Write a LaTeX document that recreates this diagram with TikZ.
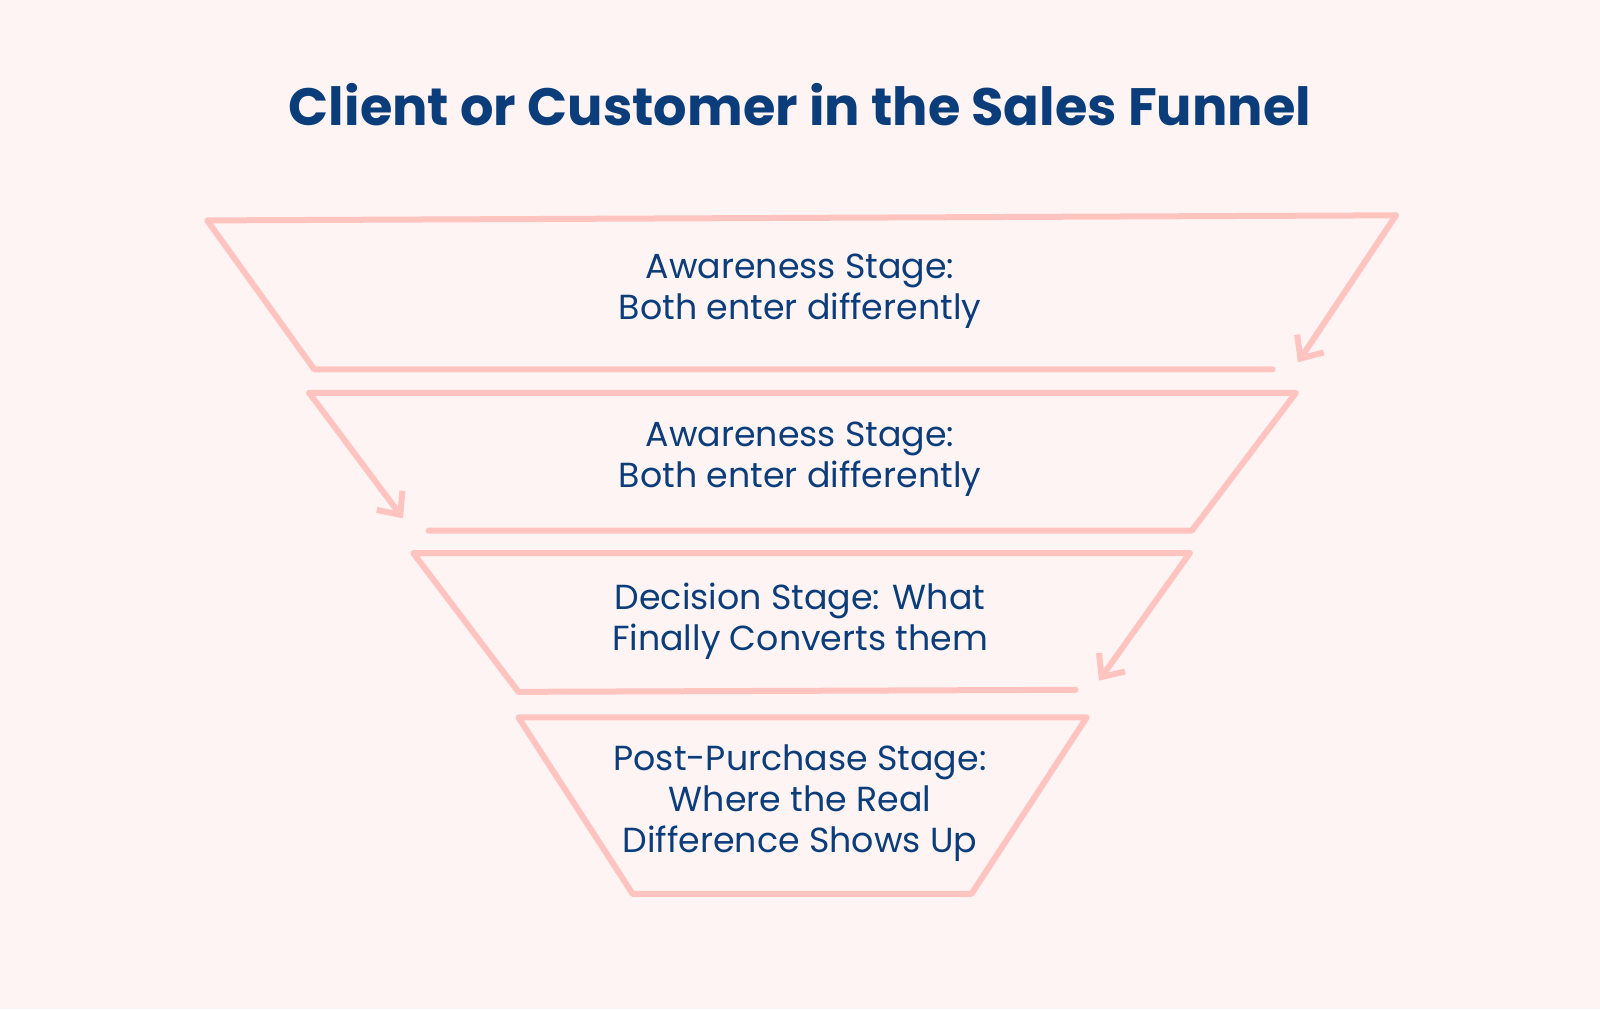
\documentclass[tikz,border=0pt]{standalone}
\usepackage{fontspec}
\setmainfont{Poppins}
\usetikzlibrary{arrows.meta}
\definecolor{bg}{HTML}{FFF4F4}
\definecolor{pk}{HTML}{FFC4C0}
\definecolor{nv}{HTML}{0B3D7A}
\begin{document}
\begin{tikzpicture}[x=0.5102pt,y=-0.5102pt,
  st/.style={draw=pk,line width=3pt,line cap=round,line join=round},
  ar/.style={st,-{Straight Barb[length=9pt,width=16pt,line width=3pt]}},
  lb/.style={text=nv,font=\fontsize{17.4}{20.4}\selectfont,align=center}]
\fill[bg] (0,0) rectangle (1568,989);
\node[text=nv,font=\fontsize{26.3}{30}\selectfont\bfseries] (title) at (784,103) {Client or Customer in the Sales Funnel};
% stage 1
\draw[st] (1247,362) -- (308,362) -- (203,216) -- (1368,211);
\draw[ar] (1368,211) -- (1272,355);
% stage 2
\draw[st] (420,520) -- (1168,520) -- (1270,385) -- (303,385);
\draw[ar] (303,385) -- (395,508);
% stage 3
\draw[st] (1054,676) -- (508,678) -- (405,542) -- (1166,542);
\draw[ar] (1166,542) -- (1077,667);
% stage 4
\draw[st] (508,703) -- (1065,703) -- (952,876) -- (620,876) -- cycle;
\node[lb] (s1) at (784,285) {Awareness Stage:\\Both enter differently};
\node[lb] (s2) at (784,450) {Awareness Stage:\\Both enter differently};
\node[lb] (s3) at (784,609) {Decision Stage: What\\Finally Converts them};
\node[lb] (s4) at (784,787) {Post-Purchase Stage:\\Where the Real\\Difference Shows Up};
\end{tikzpicture}
\end{document}
